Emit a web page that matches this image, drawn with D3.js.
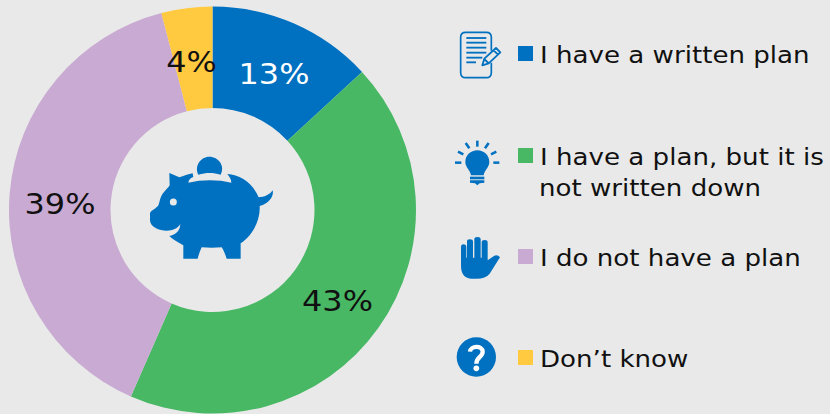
<!DOCTYPE html>
<html>
<head>
<meta charset="utf-8">
<script src="https://cdn.jsdelivr.net/npm/d3@7/dist/d3.min.js"></script>
<style>
html,body{margin:0;padding:0;background:#e9e9e9;}
svg{display:block;}
text{font-family:"DejaVu Sans",sans-serif;fill:#111;}
</style>
</head>
<body>
<svg id="chart" width="830" height="414"></svg>
<script>
const categories = ["I have a written plan", "I have a plan, but it is|not written down", "I do not have a plan", "Don\u2019t know"];
const shares = [13, 43, 39, 4];
const shareLabels = ["13%", "43%", "39%", "4%"];
const palette = ["#0070c0", "#48b865", "#c9aad2", "#ffc940"];
const iconBlue = "#0070c0";
const paper = "#e9e9e9";
const legendWiden = 1.125;
const labelWiden = 1.16;

const svg = d3.select("#chart");

// Donut
const cx = 212.5, cy = 210, outer = 203.5, inner = 102;
const pie = d3.pie().sort(null).value(d => d);
const arc = d3.arc().innerRadius(inner).outerRadius(outer);
const slices = pie(shares);
const donut = svg.append("g").attr("transform", `translate(${cx},${cy})`);
donut.selectAll("path").data(slices).join("path")
  .attr("d", arc).attr("fill", (d, i) => palette[i]);

const labelSpots = [[61.5, -136], [125, 91.5], [-152.5, -5.5], [-21, -147.5]];
donut.selectAll("text").data(slices).join("text")
  .attr("transform", (d, i) => `translate(${labelSpots[i][0]},${labelSpots[i][1]}) scale(${labelWiden},1)`)
  .attr("text-anchor", "middle").attr("dominant-baseline", "central")
  .attr("font-size", 27.5)
  .style("fill", (d, i) => i === 0 ? "#fff" : "#111")
  .text((d, i) => shareLabels[i]);

// Legend
const legendRows = [
  {box: 46, base: [63]},
  {box: 148, base: [165, 196]},
  {box: 249, base: [266]},
  {box: 350, base: [367]}
];
const legendX = 518, boxSize = 15;
const legend = svg.append("g");
legendRows.forEach((row, i) => {
  legend.append("rect").attr("x", legendX).attr("y", row.box)
    .attr("width", boxSize).attr("height", boxSize).attr("fill", palette[i]);
  categories[i].split("|").forEach((line, j) => {
    legend.append("text")
      .attr("transform", `translate(${j ? 539 : 540},${row.base[j]}) scale(${legendWiden},1)`)
      .attr("font-size", 23.2).text(line);
  });
});

// Piggy bank in the donut hole
const pig = svg.append("g").attr("transform", "translate(130,140) scale(0.3333)").attr("fill", iconBlue);
pig.append("path").attr("d", "M60,222 C60,212 72,210 84,198 C90,190 88,170 104,154 C110,146 116,142 119,136 L118,99 L148,112 C160,108 176,102 188,100 L190,111 C182,114 176,118 175,128 C215,118 265,118 304,128 C304,118 298,110 292,102 C330,104 368,128 386,172 C402,172 420,164 428,151 C432,166 420,190 389,198 C392,240 366,290 332,310 L332,356 L290,356 C286,344 282,332 275,322 C256,324 234,324 215,322 C210,332 206,344 203,356 L160,356 L160,316 C144,306 128,298 118,288 C134,284 150,276 151,252 C142,266 128,272 110,272 C88,272 60,262 60,240 Z");
pig.append("path").attr("d", "M205,104 C192,78 212,50 238,50 C266,50 286,78 272,104 C250,97 228,97 205,104 Z");
pig.append("circle").attr("cx", 130).attr("cy", 186).attr("r", 10.5).attr("fill", paper);

// Document with pencil
const doc = svg.append("g").attr("transform", "translate(445,20) scale(0.3333)");
doc.append("path").attr("fill", "none").attr("stroke", iconBlue).attr("stroke-width", 5)
  .attr("d", "M139,92 L139,52 Q139,37 124,37 L62,37 Q47,37 47,52 L47,158 Q47,173 62,173 L124,173 Q139,173 139,158 L139,128");
[[54, 124], [68, 124], [83, 124], [98, 124], [113, 112], [127, 93]].forEach(([y, x2]) => {
  doc.append("line").attr("x1", 64).attr("x2", x2).attr("y1", y).attr("y2", y)
    .attr("stroke", iconBlue).attr("stroke-width", 5.5);
});
doc.append("path").attr("fill", "none").attr("stroke", iconBlue).attr("stroke-width", 5.5).attr("stroke-linejoin", "round")
  .attr("d", "M112,136 L118,116 L153,84 L166,97 L131,130 Z M119,118 L130,129 M146,91 L159,104");

// Light bulb
const bulb = svg.append("g").attr("transform", "translate(445,20) scale(0.3333)").attr("fill", iconBlue);
bulb.append("path").attr("d", "M78,466 C76,450 61,442 61,426 C61,406 77,391 97,391 C117,391 133,406 133,426 C133,442 118,450 116,466 Z");
bulb.append("rect").attr("x", 75).attr("y", 470).attr("width", 43).attr("height", 8);
bulb.append("path").attr("d", "M75,481 L118,481 L118,488 L104,490 L97,496 L90,490 L75,488 Z");
[[97, 362, 97, 380], [62, 369, 73, 385], [131, 369, 120, 385], [39, 395, 55, 403], [154, 395, 138, 403], [30, 428, 49, 428], [145, 428, 163, 428]]
  .forEach(([x1, y1, x2, y2]) => {
    bulb.append("line").attr("x1", x1).attr("y1", y1).attr("x2", x2).attr("y2", y2)
      .attr("stroke", iconBlue).attr("stroke-width", 7.5);
  });

// Raised hand
const hand = svg.append("g").attr("transform", "translate(445,225) scale(0.3333)").attr("fill", iconBlue);
hand.append("path").attr("d", "M48,66 Q48,58 55,58 Q64,58 64,66 L64,98 L66,98 L66,50 Q66,43 74,43 Q84,43 84,50 L84,98 L88,98 L88,43 Q88,36 97,36 Q107,36 107,43 L107,98 L110,98 L110,52 Q110,45 119,45 Q128,45 128,52 L128,106 L148,92 Q158,88 165,97 L134,146 Q122,161 95,161 L78,161 Q48,158 48,122 Z");

// Question mark badge
const help = svg.append("g").attr("transform", "translate(445,225) scale(0.3333)");
help.append("circle").attr("cx", 94).attr("cy", 396).attr("r", 59).attr("fill", iconBlue);
help.append("path").attr("fill", "none").attr("stroke", "#fff").attr("stroke-width", 13)
  .attr("d", "M75,380 C76,362 112,360 113,380 C114,396 94,396 94,416");
help.append("circle").attr("cx", 94).attr("cy", 430).attr("r", 8.5).attr("fill", "#fff");
</script>
</body>
</html>
